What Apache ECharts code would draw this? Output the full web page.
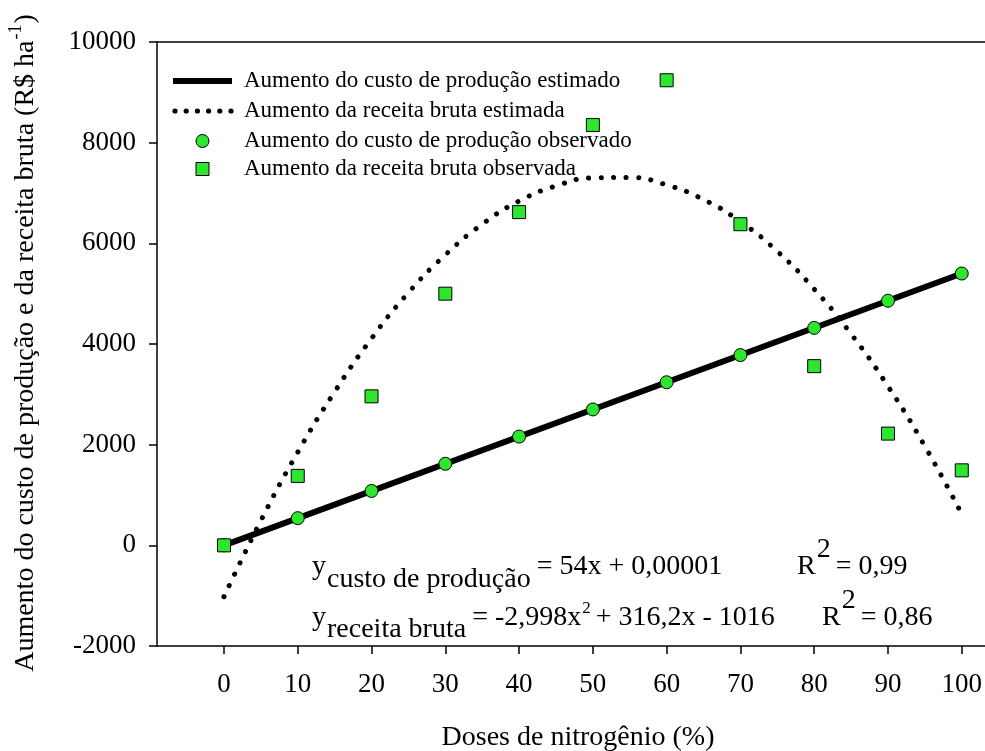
<!DOCTYPE html>
<html><head><meta charset="utf-8">
<script src="https://cdn.jsdelivr.net/npm/echarts@6/dist/echarts.min.js"></script>
<style>html,body{margin:0;padding:0;background:#fff}#c{width:985px;height:751px}</style>
</head><body><div id="c"></div>
<script>
// ---- data ----
const doses = [0, 10, 20, 30, 40, 50, 60, 70, 80, 90, 100];
const custoObservado = [0, 540, 1080, 1620, 2160, 2700, 3240, 3780, 4320, 4860, 5400];
const receitaObservada = [0, 1380, 2960, 5000, 6620, 8350, 9240, 6380, 3560, 2220, 1490];
const custoEstimadoX = [0, 100];
const custoEstimadoY = [0, 5400];
const receitaEstimadaX = [0, 5, 10, 15, 20, 25, 30, 35, 40, 45, 50, 55, 60, 65, 70, 75, 80, 85, 90, 95, 100];
const receitaEstimadaY = [-1020, 490, 1850, 3050, 4110, 5020, 5770, 6380, 6840, 7140, 7300, 7310, 7160, 6870, 6430, 5840, 5090, 4200, 3160, 1970, 620];
const xTicks = [0, 10, 20, 30, 40, 50, 60, 70, 80, 90, 100];
const yTicks = [-2000, 0, 2000, 4000, 6000, 8000, 10000];
const seriesNames = [
  'Aumento do custo de produção estimado',
  'Aumento da receita bruta estimada',
  'Aumento do custo de produção observado',
  'Aumento da receita bruta observada'
];
const xTitle = 'Doses de nitrogênio (%)';
const yTitleMain = 'Aumento do custo de produção e da receita bruta (R$ ha';
const yTitleSup = '-1';
const yTitleEnd = ')';

// ---- helpers ----
const FONT = '"Liberation Serif", "Times New Roman", serif';
const GREEN = '#2ee62e';
const cv = document.createElement('canvas').getContext('2d');
function tw(t, s) { cv.font = s + 'px ' + FONT; return cv.measureText(t).width; }
function piece(text, x, base, size, extra) {
  return Object.assign({
    type: 'text', x: x, y: base - 0.34 * size, silent: true, z: 100,
    style: { text: text, fill: '#000', font: size + 'px ' + FONT, align: 'left', verticalAlign: 'middle' }
  }, extra || {});
}
const pair = (xs, ys) => xs.map((v, i) => [v, ys[i]]);

const g = [];

// ---- legend (drawn as graphic) ----
(function () {
  const rows = [81, 111, 141, 169];
  const LF = 23, tx = 244, x0 = 173, x1 = 232, cx = 202.5;
  g.push({ type: 'line', silent: true, shape: { x1: x0, y1: rows[0], x2: x1, y2: rows[0] },
    style: { stroke: '#000', lineWidth: 6 } });
  for (let i = 0; i < 6; i++) {
    g.push({ type: 'circle', silent: true, shape: { cx: x0 + 2 + i * 11.2, cy: rows[1], r: 2.6 },
      style: { fill: '#000' } });
  }
  g.push({ type: 'circle', silent: true, shape: { cx: cx, cy: rows[2], r: 6.5 },
    style: { fill: GREEN, stroke: '#000', lineWidth: 1 } });
  g.push({ type: 'rect', silent: true, shape: { x: cx - 6.5, y: rows[3] - 6.5, width: 13, height: 13 },
    style: { fill: GREEN, stroke: '#000', lineWidth: 1 } });
  seriesNames.forEach((n, i) => {
    g.push({ type: 'text', x: tx, y: rows[i], silent: true,
      style: { text: n, fill: '#000', font: LF + 'px ' + FONT, align: 'left', verticalAlign: 'middle' } });
  });
})();

// ---- equations ----
const EQ = 28;
(function () {
  let x = 312, b = 576, sb = 589;
  g.push(piece('y', x, b, EQ)); x += tw('y', EQ) + 1;
  g.push(piece('custo de produção', x, sb, EQ)); x += tw('custo de produção', EQ) + 6;
  g.push(piece('= 54x + 0,00001', x, b, EQ));
  let rx = 797;
  g.push(piece('R', rx, b, EQ)); rx += tw('R', EQ) + 1;
  g.push(piece('2', rx, b - 17, EQ)); rx += tw('2', EQ) + 5;
  g.push(piece('= 0,99', rx, b, EQ));
})();
(function () {
  let x = 312, b = 627, sb = 639;
  g.push(piece('y', x, b, EQ)); x += tw('y', EQ) + 1;
  g.push(piece('receita bruta', x, sb, EQ)); x += tw('receita bruta', EQ) + 6;
  g.push(piece('= -2,998x', x, b, EQ)); x += tw('= -2,998x', EQ) + 1;
  g.push(piece('2', x, b - 13, 17)); x += tw('2', 17) + 5;
  g.push(piece('+ 316,2x - 1016', x, b, EQ));
  let rx = 822;
  g.push(piece('R', rx, b, EQ)); rx += tw('R', EQ) + 1;
  g.push(piece('2', rx, b - 17, EQ)); rx += tw('2', EQ) + 5;
  g.push(piece('= 0,86', rx, b, EQ));
})();

// ---- axis titles ----
const TS = 28;
g.push({ type: 'text', x: 578, y: 738, silent: true,
  style: { text: xTitle, fill: '#000', font: TS + 'px ' + FONT, align: 'center', verticalAlign: 'middle' } });
(function () {
  const w1 = tw(yTitleMain, TS), w2 = tw(yTitleSup, 18), w3 = tw(yTitleEnd, TS);
  const total = w1 + w2 + w3 + 2;
  const cx = 26, cy = 343;
  let y0 = cy + total / 2;
  g.push({ type: 'text', x: cx, y: y0, rotation: Math.PI / 2, silent: true,
    style: { text: yTitleMain, fill: '#000', font: TS + 'px ' + FONT, align: 'left', verticalAlign: 'middle' } });
  y0 -= w1 + 1;
  g.push({ type: 'text', x: cx - 10, y: y0, rotation: Math.PI / 2, silent: true,
    style: { text: yTitleSup, fill: '#000', font: '18px ' + FONT, align: 'left', verticalAlign: 'middle' } });
  y0 -= w2 + 1;
  g.push({ type: 'text', x: cx, y: y0, rotation: Math.PI / 2, silent: true,
    style: { text: yTitleEnd, fill: '#000', font: TS + 'px ' + FONT, align: 'left', verticalAlign: 'middle' } });
})();

// ---- chart ----
const chart = echarts.init(document.getElementById('c'), null, { renderer: 'canvas' });
const axisLineStyle = { color: '#000', width: 1.5 };
chart.setOption({
  animation: false,
  backgroundColor: '#fff',
  textStyle: { fontFamily: FONT },
  grid: { left: 157, right: 0, top: 42, bottom: 105, containLabel: false },
  xAxis: [{
    type: 'value', min: -9.08, max: 103.1, position: 'bottom',
    axisLine: { show: true, onZero: false, lineStyle: axisLineStyle },
    axisTick: { show: true, inside: false, length: 8, customValues: xTicks, lineStyle: axisLineStyle },
    axisLabel: { customValues: xTicks, margin: 25, fontSize: 27, color: '#000', fontFamily: FONT,
      formatter: v => String(v) },
    splitLine: { show: false }
  }, {
    type: 'value', min: -9.08, max: 103.1, position: 'top',
    axisLine: { show: true, onZero: false, lineStyle: axisLineStyle },
    axisTick: { show: false }, axisLabel: { show: false }, splitLine: { show: false }
  }],
  yAxis: {
    type: 'value', min: yTicks[0], max: yTicks[yTicks.length - 1], interval: 2000,
    axisLine: { show: true, onZero: false, lineStyle: axisLineStyle },
    axisTick: { show: true, inside: false, length: 8, lineStyle: axisLineStyle },
    axisLabel: { margin: 21, fontSize: 27, color: '#000', fontFamily: FONT, formatter: v => String(v) },
    splitLine: { show: false }
  },
  series: [{
    name: seriesNames[0], type: 'line', data: pair(custoEstimadoX, custoEstimadoY),
    symbol: 'none', lineStyle: { color: '#000', width: 6 }, itemStyle: { color: '#000' }, z: 2
  }, {
    name: seriesNames[1], type: 'line', smooth: true, data: pair(receitaEstimadaX, receitaEstimadaY),
    symbol: 'none', lineStyle: { color: '#000', width: 5, type: [0.1, 12.4], cap: 'round' }, itemStyle: { color: '#000' }, z: 2
  }, {
    name: seriesNames[2], type: 'scatter', data: pair(doses, custoObservado),
    symbol: 'circle', symbolSize: 13, itemStyle: { color: GREEN, borderColor: '#000', borderWidth: 1, opacity: 1 }, z: 3
  }, {
    name: seriesNames[3], type: 'scatter', data: pair(doses, receitaObservada),
    symbol: 'rect', symbolSize: 13, itemStyle: { color: GREEN, borderColor: '#000', borderWidth: 1, opacity: 1 }, z: 4
  }],
  graphic: g
});
</script></body></html>
